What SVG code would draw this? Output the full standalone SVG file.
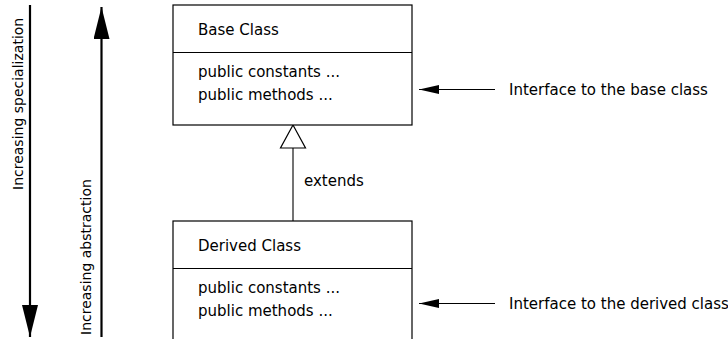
<svg xmlns="http://www.w3.org/2000/svg" width="728" height="339" viewBox="0 0 728 339">
<style>
text{font-family:"DejaVu Sans","Liberation Sans",sans-serif;font-size:15px;fill:#000}
text.rot{font-size:14px}
.box{fill:#fff;stroke:#000;stroke-width:1.2}
.div{stroke:#000;stroke-width:1.2}
.thick{stroke:#000;stroke-width:2.2;fill:none}
.thin{stroke:#000;stroke-width:1.2;fill:none}
</style>
<defs>
<marker id="bigHead" markerUnits="userSpaceOnUse" markerWidth="34" markerHeight="18" refX="32" refY="8" orient="auto">
<path d="M0,0 L32,8 L0,16 Z" fill="#000"/>
</marker>
<marker id="smallHead" markerUnits="userSpaceOnUse" markerWidth="22" markerHeight="10" refX="20" refY="4.5" orient="auto">
<path d="M0,0 L20,4.5 L0,9 Z" fill="#000"/>
</marker>
</defs>
<g id="connectors">
<line class="thick" x1="30" y1="5" x2="30" y2="337" marker-end="url(#bigHead)"/>
<line class="thick" x1="101.5" y1="337" x2="101.5" y2="7" marker-end="url(#bigHead)"/>
<line x1="293" y1="148" x2="293" y2="221" stroke="#444" stroke-width="1.5"/>
<path d="M293,125 L305.5,148 L280.5,148 Z" fill="#fff" stroke="#000" stroke-width="1.2"/>
<line class="thin" x1="495" y1="89.5" x2="419" y2="89.5" marker-end="url(#smallHead)"/>
<line class="thin" x1="495" y1="303.5" x2="419" y2="303.5" marker-end="url(#smallHead)"/>
</g>
<g id="label-specialization"><text class="rot" transform="translate(23,190) rotate(-90)">Increasing specialization</text></g>
<g id="label-abstraction"><text class="rot" transform="translate(91,335) rotate(-90)">Increasing abstraction</text></g>
<g id="label-extends"><text x="304" y="186">extends</text></g>
<g id="base-class">
<rect class="box" x="173" y="5" width="239" height="120"/>
<line class="div" x1="173" y1="52.5" x2="412" y2="52.5"/>
<text x="198" y="35">Base Class</text>
<text x="198" y="77">public constants ...</text>
<text x="198" y="100">public methods ...</text>
</g>
<g id="derived-class">
<rect class="box" x="173" y="221" width="239" height="130"/>
<line class="div" x1="173" y1="268.5" x2="412" y2="268.5"/>
<text x="198" y="251">Derived Class</text>
<text x="198" y="293">public constants ...</text>
<text x="198" y="316">public methods ...</text>
</g>
<g id="note-base"><text x="509" y="95">Interface to the base class</text></g>
<g id="note-derived"><text x="509" y="309">Interface to the derived class</text></g>
</svg>
